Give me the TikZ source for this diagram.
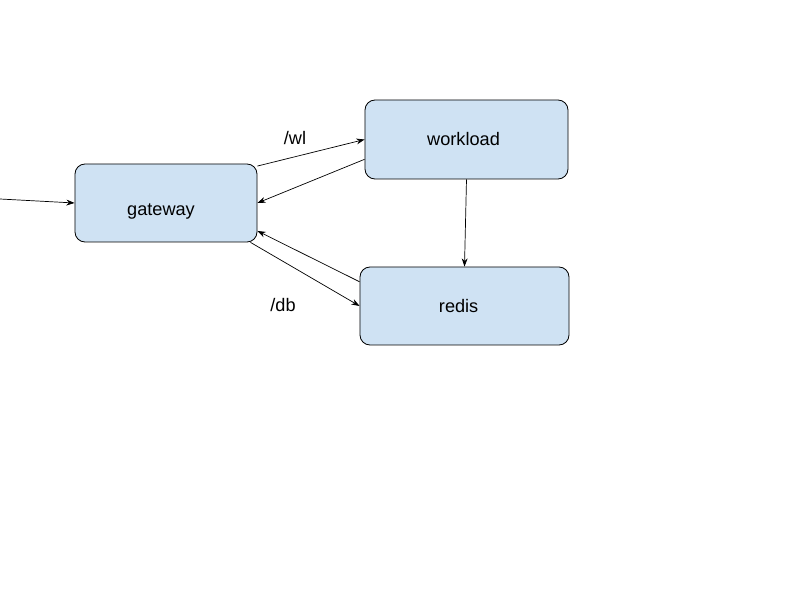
\documentclass[tikz,border=0pt]{standalone}
\usepackage{fontspec}
\setmainfont{Liberation Sans}
\usetikzlibrary{arrows.meta}

\begin{document}
\begin{tikzpicture}[x=0.03cm,y=-0.03cm]
            \tikzstyle{every node}=[font=\fontsize{15.5}{18}\selectfont]
            \tikzstyle{svc}=[draw, line width=0.7pt, fill={rgb,255:red,207;green,226;blue,243}, rounded corners=0.3cm, inner sep=0pt]
            \tikzstyle{link}=[line width=0.6pt, -{Stealth[length=7pt,width=5pt]}]
            \useasboundingbox (0,0) rectangle (800,600);

            \node[svc, minimum width=5.46cm, minimum height=2.34cm, text height=24.5pt, text depth=3.4pt] (gateway) at (166,203) {\hspace*{-8.5pt}gateway};
            \node[svc, minimum width=6.09cm, minimum height=2.37cm] (workload) at (466.5,139.5) {\hspace*{-5pt}workload};
            \node[svc, minimum width=6.27cm, minimum height=2.34cm] (redis) at (464.5,306) {\hspace*{-10pt}redis};

            \coordinate (client) at (0,199);
            \node (wl) at (295,138) {/wl};
            \node (db) at (283,305) {/db};

            \draw[link] (client) -- (gateway.west);
            \draw[link] (gateway.22) -- (workload.west);
            \draw[link] (workload.191) -- (gateway.east);
            \draw[link] (workload.south) -- (redis.north);
            \draw[link] (redis.167) -- (gateway.-17);
            \draw[link] (gateway.-25) -- (redis.west);
        \end{tikzpicture}
\end{document}
